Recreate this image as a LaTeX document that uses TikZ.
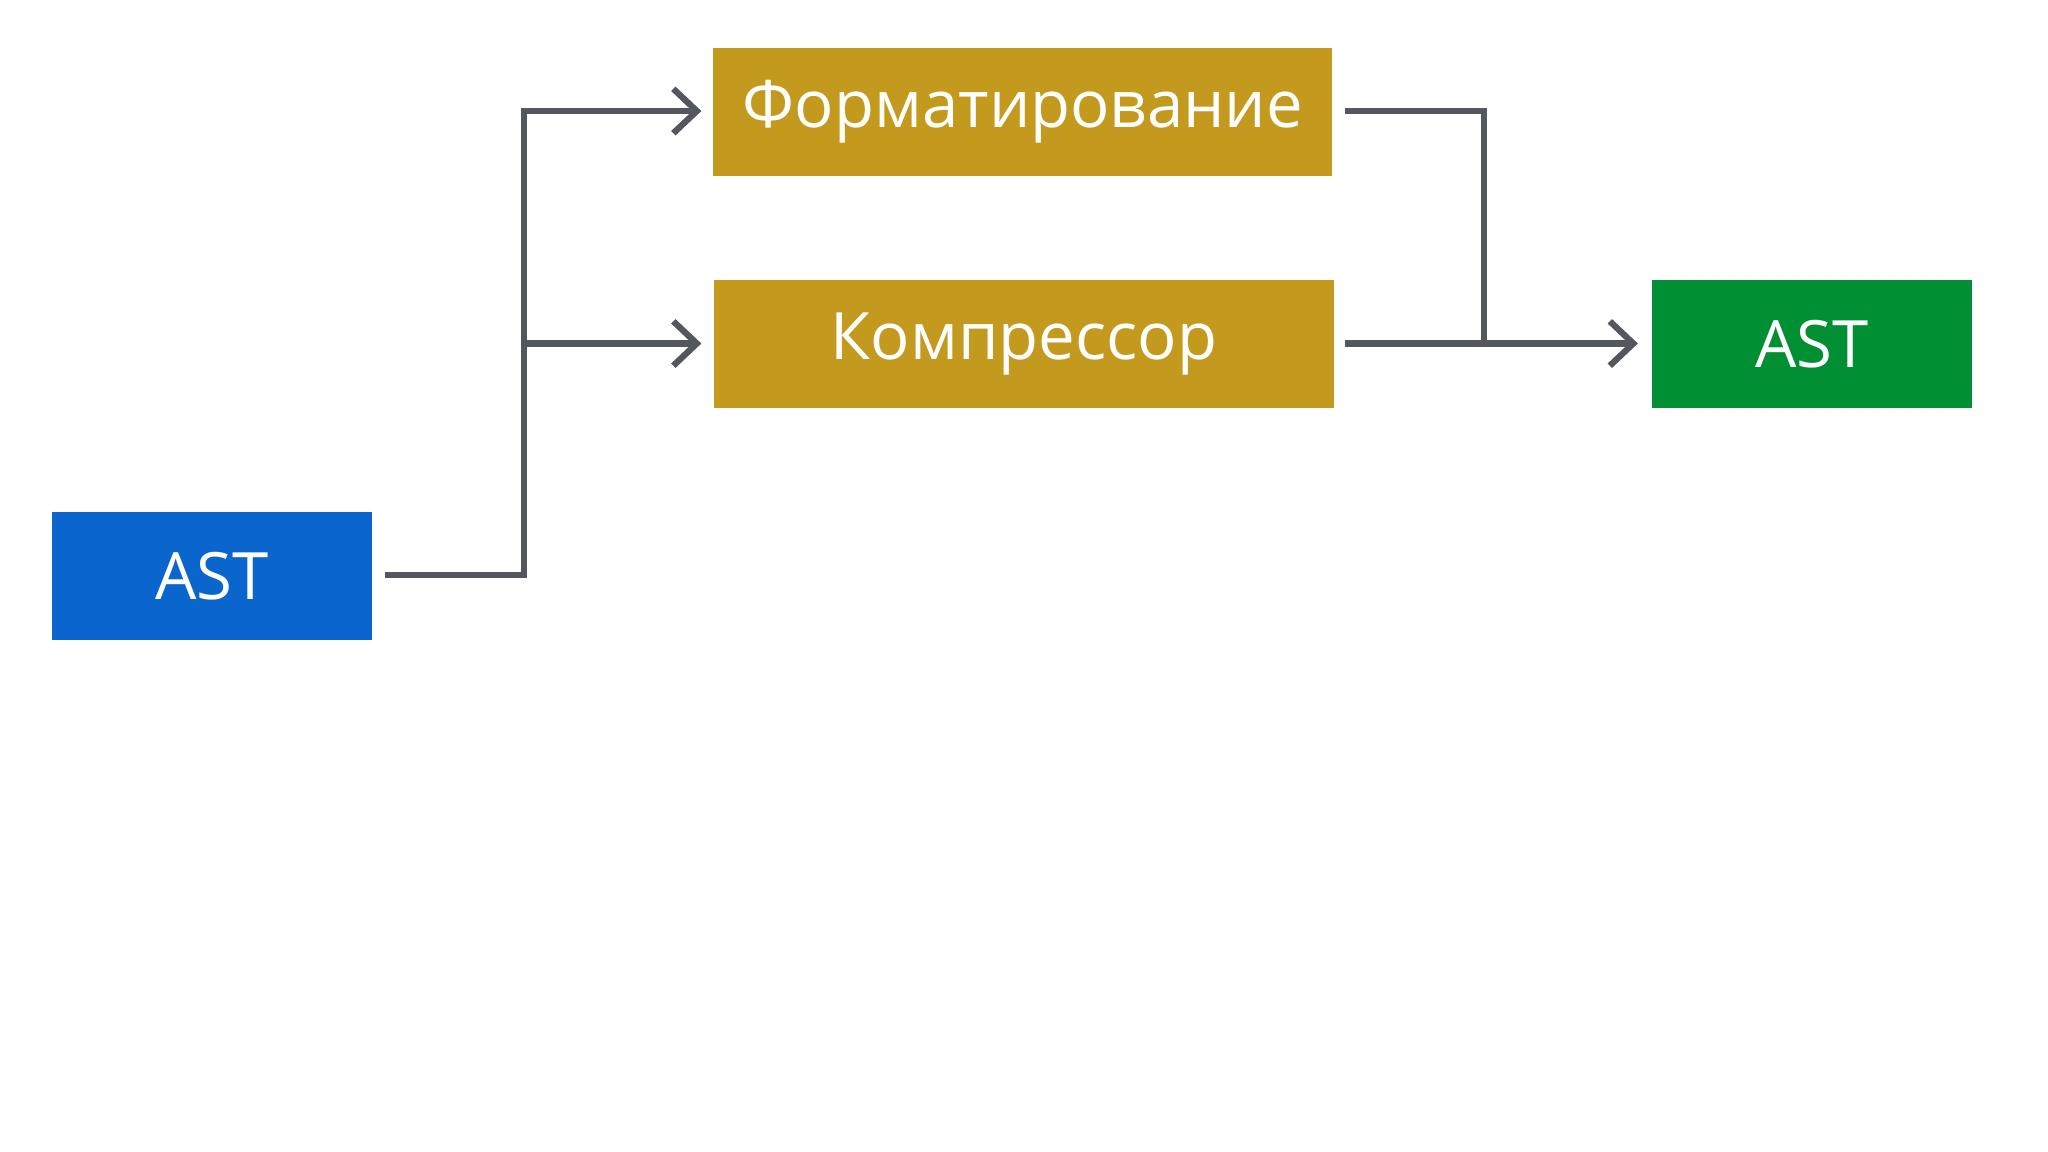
\documentclass[tikz,border=0pt]{standalone}
\usepackage{fontspec}
\setmainfont{Open Sans}
\usetikzlibrary{arrows.meta}
\definecolor{gold}{HTML}{C39A1D}
\definecolor{blueb}{HTML}{0A66CC}
\definecolor{greenb}{HTML}{008F32}
\definecolor{arr}{HTML}{54585E}
\tikzset{
  box/.style={draw=none,minimum height=49pt,inner sep=0pt,text=white,font=\fontsize{25}{30}\selectfont},
  conn/.style={draw=arr,line width=2.4pt},
  arrowc/.style={conn,-{Straight Barb[length=9pt,width=17pt,line width=2.4pt]}}
}
\begin{document}
\begin{tikzpicture}[x=0.5pt,y=-0.5pt]
\useasboundingbox[fill=white] (0,0) rectangle (1568,882);
\node[box,fill=gold,minimum width=237pt] (f) at (783,85.5) {Форматирование};
\node[box,fill=gold,minimum width=237pt] (k) at (784,263.5) {Компрессор};
\node[box,fill=blueb,minimum width=122.5pt] (a1) at (162.5,441) {AST};
\node[box,fill=greenb,minimum width=122.5pt] (a2) at (1387.5,263.5) {AST};
\coordinate (s1) at (295,440);
\coordinate (j1) at (401,440);
\coordinate (j2) at (401,263);
\coordinate (j3) at (401,85);
\coordinate (e1) at (537,85);
\coordinate (e2) at (537,263);
\coordinate (t1) at (1030,85);
\coordinate (t2) at (1136,85);
\coordinate (t3) at (1136,263);
\coordinate (t4) at (1030,263);
\coordinate (e3) at (1254,263);
\draw[arrowc] (s1) -- (j1) -- (j3) -- (e1);
\draw[arrowc] (j2) -- (e2);
\draw[conn] (t1) -- (t2) -- (t3);
\draw[arrowc] (t4) -- (e3);
\end{tikzpicture}
\end{document}
